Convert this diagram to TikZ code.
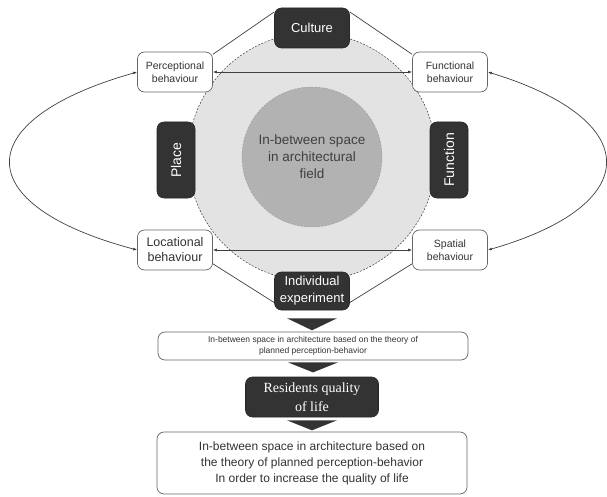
\documentclass[tikz,border=0pt]{standalone}
\usepackage{fontspec}
\setmainfont{Liberation Sans}
\newfontfamily\serifx{Liberation Serif}
\usetikzlibrary{arrows.meta,calc}
\begin{document}
\begin{tikzpicture}[x=1pt,y=-1pt,
 darkbox/.style={draw=black!85, fill=black!80, text=white, rounded corners=7pt, line width=0.6pt, align=center, inner sep=0pt},
 whitebox/.style={draw=black!60, fill=white, text=black!80, rounded corners=7pt, line width=0.7pt, align=center, inner sep=0pt},
 conn/.style={draw=black!75, line width=0.7pt},
 arr/.style={conn, {Latex[length=4pt,width=3pt]}-{Latex[length=4pt,width=3pt]}},
 tri/.style={fill=black!80}
]
\useasboundingbox (0,0) rectangle (607,497);
% circles
\node[circle, minimum size=248pt, inner sep=0pt, fill=black!11, draw=black!75, dash pattern=on 2pt off 1.5pt, line width=0.5pt] (outer) at (312,157) {};
\node[circle, minimum size=140pt, inner sep=0pt, fill=black!30, draw=black!40, dash pattern=on 2pt off 1.5pt, line width=0.4pt, text=black!75, align=center, font=\fontsize{13.5}{17}\selectfont] (inner) at (312,157) {In-between space\\in architectural\\field};
% boxes
\node[darkbox, minimum width=75pt, minimum height=40pt, font=\fontsize{13}{16}\selectfont] (cult) at (312,28) {Culture};
\node[whitebox, minimum width=75pt, minimum height=40pt, font=\fontsize{10.5}{13}\selectfont] (perc) at (175,72) {Perceptional\\behaviour};
\node[whitebox, minimum width=75pt, minimum height=40pt, font=\fontsize{10.5}{13}\selectfont] (func) at (450,72) {Functional\\behaviour};
\node[whitebox, minimum width=75pt, minimum height=40pt, font=\fontsize{12.5}{15}\selectfont] (loc) at (175,250) {Locational\\behaviour};
\node[whitebox, minimum width=75pt, minimum height=40pt, font=\fontsize{10.5}{13}\selectfont] (spat) at (450,250) {Spatial\\behaviour};
\node[darkbox, minimum width=75pt, minimum height=38pt, font=\fontsize{13}{17}\selectfont] (ind) at (312,291) {Individual\\experiment};
\node[darkbox, rotate=90, minimum width=76pt, minimum height=38pt, font=\fontsize{14}{16}\selectfont] (place) at (176,160) {Place};
\node[darkbox, rotate=90, minimum width=76pt, minimum height=38pt, font=\fontsize{14}{16}\selectfont] (funct) at (449,160) {Function};
% connectors
\draw[conn] (cult.157) -- (perc.25);
\draw[conn] (cult.23) -- (func.155);
\draw[conn] (loc.-20) -- (ind.197);
\draw[conn] (spat.200) -- (ind.-17);
\draw[arr] (perc.east) -- (func.west);
\draw[arr] (loc.east) -- (spat.west);
\draw[arr] (perc.west) .. controls (-32,120) and (-32,205) .. (loc.west);
\draw[arr] (func.east) .. controls (645,120) and (645,205) .. (spat.east);
% lower chain
\node[whitebox, minimum width=310pt, minimum height=28pt, font=\fontsize{8.5}{11}\selectfont] (box1) at (313,346) {In-between space in architecture based on the theory of\\planned perception-behavior};
\node[darkbox, minimum width=133pt, minimum height=40pt, font=\serifx\fontsize{14}{18.5}\selectfont] (res) at (312,397) {Residents quality\\of life};
\node[whitebox, minimum width=310pt, minimum height=62pt, font=\fontsize{12}{16}\selectfont] (box2) at (312,463) {In-between space in architecture based on\\the theory of planned perception-behavior\\In order to increase the quality of life};
\fill[tri] ($(ind.south)+(-25,8)$) -- ($(ind.south)+(25,8)$) -- ($(ind.south)+(0,20)$) -- cycle;
\fill[tri] ($(box1.south)+(-25,2)$) -- ($(box1.south)+(25,2)$) -- ($(box1.south)+(0,12)$) -- cycle;
\fill[tri] ($(res.south)+(-25,3)$) -- ($(res.south)+(25,3)$) -- ($(res.south)+(0,13)$) -- cycle;
\end{tikzpicture}
\end{document}
